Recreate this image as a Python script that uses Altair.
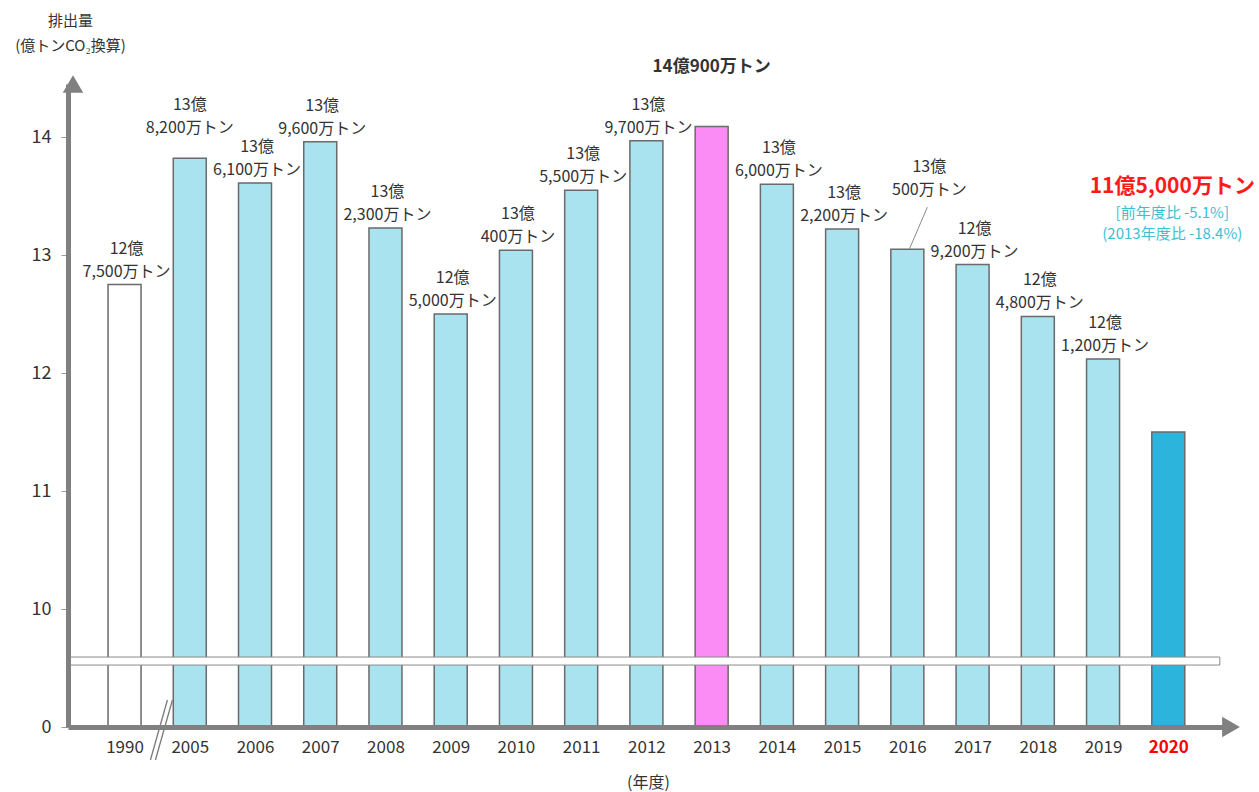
import altair as alt
import pandas as pd

years = ["1990", "2005", "2006", "2007", "2008", "2009", "2010", "2011", "2012",
         "2013", "2014", "2015", "2016", "2017", "2018", "2019", "2020"]
values = [12.75, 13.82, 13.61, 13.96, 13.23, 12.50, 13.04, 13.55, 13.97,
          14.09, 13.60, 13.22, 13.05, 12.92, 12.48, 12.12, 11.50]
kinds = ["base"] + ["normal"] * 8 + ["peak"] + ["normal"] * 6 + ["latest"]
line1 = ["12億", "13億", "13億", "13億", "13億", "12億", "13億", "13億", "13億",
         "14億900万トン", "13億", "13億", "13億", "12億", "12億", "12億", "11億5,000万トン"]
line2 = ["7,500万トン", "8,200万トン", "6,100万トン", "9,600万トン", "2,300万トン",
         "5,000万トン", "400万トン", "5,500万トン", "9,700万トン", "",
         "6,000万トン", "2,200万トン", "500万トン", "9,200万トン", "4,800万トン",
         "1,200万トン", ""]
note_2020 = ["[前年度比 -5.1%]", "(2013年度比 -18.4%)"]

df = pd.DataFrame({"idx": list(range(len(years))), "year": years, "value": values,
                   "kind": kinds, "l1": line1, "l2": line2})
df["label"] = df["l1"] + "\n" + df["l2"]

FONT = "Noto Sans CJK JP"
TXT = "#333333"
GREY = "#808080"

xscale = alt.Scale(domain=[-0.79, 16.9], nice=False, zero=False)
yscale = alt.Scale(domain=[9, 14.45], nice=False, zero=False)

label_expr = "[" + ",".join("'%s'" % y for y in years) + "][datum.value]"

base = alt.Chart(df)

bars = base.mark_bar(size=33, stroke="#6a6a6a", strokeWidth=1.5).encode(
    x=alt.X("idx:Q", scale=xscale,
            axis=alt.Axis(values=list(range(len(years))), labelExpr=label_expr,
                          tickSize=0, domainWidth=5, domainColor=GREY,
                          labelFontSize=17, labelPadding=12,
                          labelColor={"expr": "datum.value == 16 ? '#ff0000' : '#333333'"},
                          labelFontWeight={"expr": "datum.value == 16 ? 'bold' : 'normal'"},
                          title="(年度)", titleFontSize=16, titleFontWeight="normal",
                          titleColor=TXT, titleX=580, titleY=55, titleBaseline="middle",
                          grid=False, zindex=1)),
    y=alt.Y("value:Q", scale=yscale,
            axis=alt.Axis(values=[9, 10, 11, 12, 13, 14],
                          labelExpr="datum.value == 9 ? '0' : datum.value",
                          tickSize=7, tickColor="#9a9a9a", tickWidth=1,
                          domainWidth=5, domainColor=GREY,
                          labelFontSize=18, labelColor=TXT, labelPadding=10,
                          title=["排出量", "(億トンCO₂換算)"], titleAngle=0,
                          titleAlign="center", titleBaseline="middle",
                          titleFontSize=15, titleFontWeight="normal", titleColor=TXT,
                          titleLineHeight=25, titleX=2, titleY=-64,
                          grid=False, zindex=1)),
    y2=alt.datum(9),
    fill=alt.Fill("kind:N",
                  scale=alt.Scale(domain=["base", "normal", "peak", "latest"],
                                  range=["#ffffff", "#a9e3ef", "#fb8cf5", "#2cb4dd"]),
                  legend=None),
)

one = alt.Chart(pd.DataFrame({"a": [0]}))

break_band = one.mark_rect(fill="white", stroke="#8a8a8a", strokeWidth=1).encode(
    x=alt.datum(-0.87), x2=alt.datum(16.79), y=alt.datum(9.525), y2=alt.datum(9.593))

slash_a = one.mark_rule(color="#7a7a7a", strokeWidth=1.3, xOffset=-10, x2Offset=7,
                        yOffset=33, y2Offset=-27).encode(
    x=alt.datum(0.55), x2=alt.datum(0.55), y=alt.datum(9), y2=alt.datum(9))
slash_b = one.mark_rule(color="#7a7a7a", strokeWidth=1.3, xOffset=-5, x2Offset=12,
                        yOffset=33, y2Offset=-27).encode(
    x=alt.datum(0.55), x2=alt.datum(0.55), y=alt.datum(9), y2=alt.datum(9))

arrow_up = one.mark_point(shape="triangle-up", size=420, filled=True, opacity=1,
                          color=GREY).encode(x=alt.datum(-0.79), y=alt.datum(14.45))
arrow_right = one.mark_point(shape="triangle-right", size=420, filled=True, opacity=1,
                             color=GREY, xOffset=4).encode(x=alt.datum(16.9), y=alt.datum(9))

txt_kw = dict(fontSize=16, lineHeight=23, lineBreak="\n", color=TXT, baseline="bottom")

normal_lbl = base.transform_filter(
    "(datum.kind == 'normal' || datum.kind == 'base') && datum.year != '2005' && datum.year != '2016'"
).mark_text(dy=-28, dx=2, **txt_kw).encode(x="idx:Q", y="value:Q", text="label:N")

lbl_2005 = base.transform_filter("datum.year == '2005'").mark_text(dy=-45, **txt_kw).encode(
    x="idx:Q", y="value:Q", text="label:N")

lbl_2016 = base.transform_filter("datum.year == '2016'").mark_text(dy=-74, dx=22, **txt_kw).encode(
    x="idx:Q", y="value:Q", text="label:N")

leader = base.transform_filter("datum.year == '2016'").mark_rule(
    color="#8a8a8a", strokeWidth=1, xOffset=2, x2Offset=20, y2Offset=-42).encode(
    x="idx:Q", x2="idx:Q", y="value:Q", y2="value:Q")

peak_lbl = base.transform_filter("datum.kind == 'peak'").mark_text(
    dy=-50, fontSize=17, fontWeight="bold", color=TXT, baseline="bottom").encode(
    x="idx:Q", y="value:Q", text="l1:N")

latest = base.transform_filter("datum.kind == 'latest'")
latest_lbl = latest.mark_text(dy=-245, dx=4, fontSize=21, fontWeight="bold", color="#ff1a1a",
                              baseline="middle").encode(x="idx:Q", y="value:Q", text="l1:N")
note1 = latest.transform_calculate(t="'%s'" % note_2020[0]).mark_text(
    dy=-219, dx=4, fontSize=15, color="#3bbfd3", baseline="middle").encode(
    x="idx:Q", y="value:Q", text="t:N")
note2 = latest.transform_calculate(t="'%s'" % note_2020[1]).mark_text(
    dy=-198, dx=4, fontSize=15, color="#3bbfd3", baseline="middle").encode(
    x="idx:Q", y="value:Q", text="t:N")

chart = alt.layer(
    bars, break_band, slash_a, slash_b, arrow_up, arrow_right,
    normal_lbl, lbl_2005, lbl_2016, leader, peak_lbl, latest_lbl, note1, note2
).properties(
    width=1164, height=643,
    autosize=alt.AutoSizeParams(type="none"),
    padding={"left": 68, "top": 84, "right": 27, "bottom": 65},
    background="white",
).configure(font=FONT, view=alt.ViewConfig(stroke=None))

chart.save("out.html", embed_options={"renderer": "svg", "actions": False})
